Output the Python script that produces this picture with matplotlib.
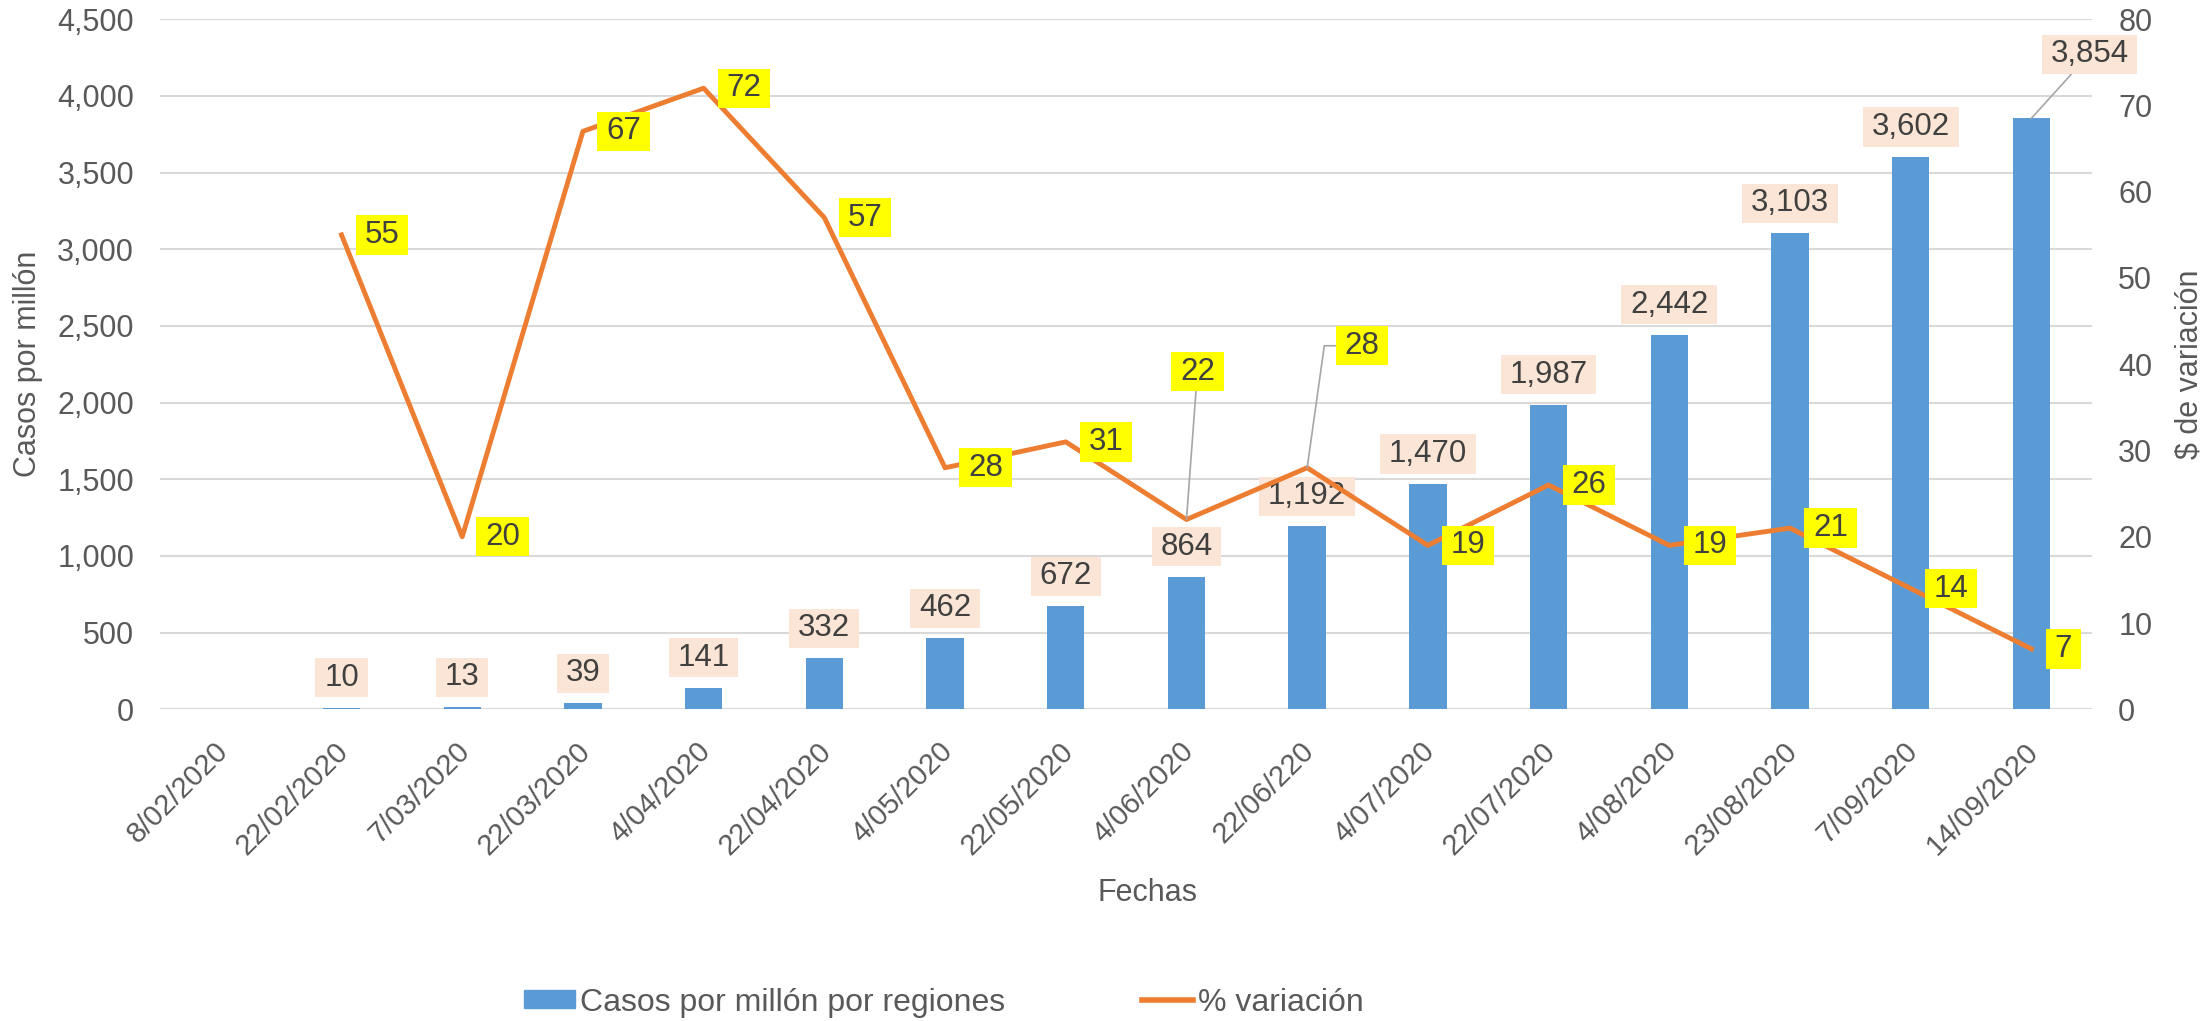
import matplotlib.pyplot as plt
from matplotlib.patches import Rectangle
from matplotlib.lines import Line2D
from matplotlib.path import Path
from matplotlib.ticker import FuncFormatter, MultipleLocator
from matplotlib.transforms import ScaledTranslation

plt.rcParams['font.family'] = ['Liberation Sans', 'DejaVu Sans']

fechas = ['8/02/2020', '22/02/2020', '7/03/2020', '22/03/2020', '4/04/2020',
          '22/04/2020', '4/05/2020', '22/05/2020', '4/06/2020', '22/06/220',
          '4/07/2020', '22/07/2020', '4/08/2020', '23/08/2020', '7/09/2020',
          '14/09/2020']
casos = [None, 10, 13, 39, 141, 332, 462, 672, 864, 1192, 1470, 1987,
         2442, 3103, 3602, 3854]
variacion = [None, 55, 20, 67, 72, 57, 28, 31, 22, 28, 19, 26, 19, 21, 14, 7]

# posiciones especiales de etiquetas (offset en pixeles)
offs_var = {8: (11, 148), 9: (55, 122)}
conex_var = {8: 'arc3', 9: 'angle,angleA=0,angleB=82,rad=0'}
offs_casos = {15: (58, 64)}

GRIS = '#595959'
TXT = '#404040'
AZUL = '#5B9BD5'
NARANJA = '#ED7D31'


def caja(x0, y0, width, height, mutation_size):
    # caja tipo Excel: mas margen a los lados que arriba/abajo
    px = 0.28 * mutation_size
    py = 0.15 * mutation_size
    x0, x1 = x0 - px, x0 + width + px
    y0, y1 = y0 - py, y0 + height + py
    return Path([(x0, y0), (x1, y0), (x1, y1), (x0, y1), (x0, y0)], closed=True)


fig = plt.figure(figsize=(22.1, 10.21), dpi=100)
ax = fig.add_axes([0.0726, 0.3053, 0.8739, 0.6759])
ax2 = ax.twinx()

x = list(range(len(fechas)))
xb = [i for i in x if casos[i] is not None]
yb = [casos[i] for i in xb]
ax.bar(xb, yb, width=0.31, color=AZUL, zorder=2)

xl = [i for i in x if variacion[i] is not None]
yl = [variacion[i] for i in xl]
ax2.plot(xl, yl, color=NARANJA, lw=3.5, solid_joinstyle='round', zorder=3)

ax.set_xlim(-0.5, len(fechas) - 0.5)
ax.set_ylim(0, 4500)
ax2.set_ylim(0, 80)
ax.yaxis.set_major_locator(MultipleLocator(500))
ax2.yaxis.set_major_locator(MultipleLocator(10))
ax.yaxis.set_major_formatter(FuncFormatter(lambda v, p: f'{int(v):,}'))
ax.grid(axis='y', color='#D9D9D9', lw=1.5, zorder=0)
ax.set_axisbelow(True)
for a in (ax, ax2):
    for s in a.spines.values():
        s.set_visible(False)
    a.tick_params(length=0, labelsize=22, labelcolor=GRIS)
ax.tick_params(axis='y', pad=19)
ax2.tick_params(axis='y', pad=19)

ax.set_xticks(x)
ax.set_xticklabels(fechas, rotation=45, ha='right', rotation_mode='anchor')
ax.tick_params(axis='x', pad=20, labelsize=21)
for lab in ax.get_xticklabels():
    lab.set_transform(lab.get_transform() + ScaledTranslation(-0.07, 0, fig.dpi_scale_trans))

ax.set_xlabel('Fechas', fontsize=22, color=GRIS, va='center')
ax.xaxis.set_label_coords(0.511, -0.266)
ax.set_ylabel('Casos por millón', fontsize=22, color=GRIS, va='center')
ax.yaxis.set_label_coords(-0.0686, 0.5)
ax2.set_ylabel('$ de variación', fontsize=22, color=GRIS, va='center')
ax2.yaxis.set_label_coords(1.0505, 0.5)

# etiquetas de barras
for i in xb:
    v = casos[i]
    dx, dy = offs_casos.get(i, (0, 30))
    kw = {}
    if i in offs_casos:
        kw['arrowprops'] = dict(arrowstyle='-', color='#A6A6A6', lw=1.2,
                                shrinkA=0, shrinkB=0)
    ax.annotate(f'{v:,}', xy=(i, v), xytext=(dx, dy), textcoords='offset pixels',
                ha='center', va='center', fontsize=22.5, color=TXT, zorder=5,
                bbox=dict(boxstyle=caja, fc='#FBE5D6', ec='none'),
                **kw)

# etiquetas de la linea
for i in xl:
    v = variacion[i]
    kw = {}
    if i in offs_var:
        dx, dy = offs_var[i]
        ha = 'center'
        kw['arrowprops'] = dict(arrowstyle='-', color='#A6A6A6', lw=1.2,
                                shrinkA=0, shrinkB=0,
                                relpos=(0, 0.5) if i == 9 else (0.5, 0.5),
                                connectionstyle=conex_var[i])
    else:
        dx, dy = 23, 0
        ha = 'left'
    ax2.annotate(f'{v}', xy=(i, v), xytext=(dx, dy), textcoords='offset pixels',
                 ha=ha, va='center', fontsize=22.5, color=TXT, zorder=6,
                 bbox=dict(boxstyle=caja, fc='#FFFF00', ec='none'),
                 **kw)

handles = [Rectangle((0, 0), 1, 1, color=AZUL),
           Line2D([0], [0], color=NARANJA, lw=4)]
fig.legend(handles, ['Casos por millón por regiones', '% variación'],
           loc='center', bbox_to_anchor=(0.427, 0.018), ncol=2, frameon=False,
           fontsize=23, labelcolor=GRIS, handlelength=1.6, handleheight=0.5,
           handletextpad=0.15, columnspacing=4.3)

fig.savefig('out.png', dpi=100)
